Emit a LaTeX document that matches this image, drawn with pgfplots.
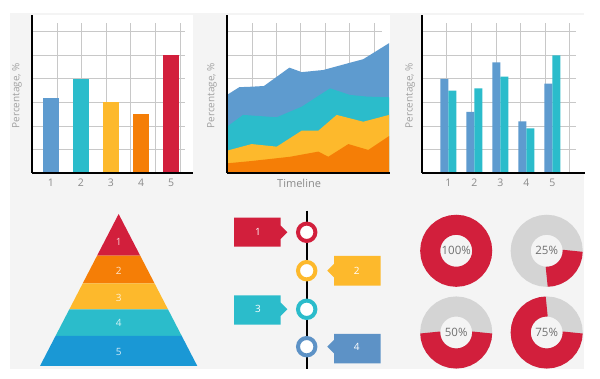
\documentclass[border=0pt]{standalone}
\usepackage{pgfplots}
\pgfplotsset{compat=1.18}
\usepackage{fontspec}
\setmainfont{Open Sans}
\definecolor{panel}{HTML}{F4F4F4}
\definecolor{gridc}{HTML}{C8C8C8}
\definecolor{tickc}{HTML}{8A8A8A}
\definecolor{labc}{HTML}{A0A0A0}
\definecolor{cBlue}{HTML}{5E9BCF}
\definecolor{cTeal}{HTML}{2BBCCB}
\definecolor{cYellow}{HTML}{FDB92C}
\definecolor{cOrange}{HTML}{F57E06}
\definecolor{cRed}{HTML}{D21F3C}
\definecolor{pBlue}{HTML}{1A98D5}
\definecolor{tBlue}{HTML}{5D92C6}
\definecolor{dGray}{HTML}{D4D4D4}
\definecolor{dText}{HTML}{707070}
\begin{document}
\begin{tikzpicture}[x=1pt,y=1pt]
\fill[white] (0pt,0pt) rectangle (600pt,379pt);
\fill[panel] (10pt,10pt) rectangle (584pt,366pt);
\pgfplotsset{
  topchart/.style={
    scale only axis, height=158pt, anchor=south west,
    axis x line*=bottom, axis y line*=left,
    axis line style={black, line width=2.2pt, -},
    axis on top, clip=false,
    ymin=0, ymax=67.2, ytick=\empty,
    major tick length=0pt,
    axis background/.style={fill=white},
    /pgf/number format/assume math mode=true,
    xticklabel style={font=\fontsize{10.5}{12}\selectfont, text=tickc, anchor=center, yshift=-10pt},
    ylabel={Percentage, \%},
  },
  ylab/.style={every axis y label/.style={at={(axis description cs:#1,0.49)}, rotate=90, anchor=center, font=\fontsize{10}{12}\selectfont, text=labc}},
}
% ---------- Chart 1: single bars ----------
\begin{axis}[topchart, ylab=-0.093, at={(32pt,206pt)}, width=161pt,
  xmin=0.367, xmax=5.733, xtick={1,2,3,4,5}, xticklabels={1,2,3,4,5}]
\pgfplotsinvokeforeach{1.2,2.0,2.833,3.633,4.467,5.3}{\draw[gridc, line width=0.9pt] (axis cs:#1,0) -- (axis cs:#1,63.8);}
\pgfplotsinvokeforeach{10,20,30,40,50,60}{\draw[gridc, line width=0.9pt] (axis cs:0.367,#1) -- (axis cs:5.467,#1);}
\addplot[ybar, bar width=16pt, bar shift=0pt, fill=cBlue, draw=none] coordinates {(1,32)};
\addplot[ybar, bar width=16pt, bar shift=0pt, fill=cTeal, draw=none] coordinates {(2,40)};
\addplot[ybar, bar width=16pt, bar shift=0pt, fill=cYellow, draw=none] coordinates {(3,30)};
\addplot[ybar, bar width=16pt, bar shift=0pt, fill=cOrange, draw=none] coordinates {(4,25)};
\addplot[ybar, bar width=16pt, bar shift=0pt, fill=cRed, draw=none] coordinates {(5,50)};
\end{axis}
% ---------- Chart 2: stacked areas ----------
\begin{axis}[topchart, ylab=-0.092, at={(227pt,206pt)}, width=163pt,
  xmin=0, xmax=10.06, xtick=\empty]
\pgfplotsinvokeforeach{1.543,3.025,4.506,6.049,7.531,9.074}{\draw[gridc, line width=0.9pt] (axis cs:#1,0) -- (axis cs:#1,63.8);}
\pgfplotsinvokeforeach{10,20,30,40,50,60}{\draw[gridc, line width=0.9pt] (axis cs:0,#1) -- (axis cs:9.568,#1);}
\addplot[fill=cBlue, draw=none] coordinates {(0,33.2) (0.76,36.5) (1.52,36.7) (2.28,37.0) (3.85,44.8) (4.61,42.9) (5.94,43.8) (7.49,46.7) (8.41,48.4) (10,55.2)} \closedcycle;
\addplot[fill=cTeal, draw=none] coordinates {(0,19.7) (0.99,24.7) (3.07,23.7) (4.61,28.2) (6.36,36.0) (7.59,33.2) (8.62,32.5) (10,32.2)} \closedcycle;
\addplot[fill=cYellow, draw=none] coordinates {(0,9.5) (1.52,12.3) (3.07,11.2) (4.61,18.0) (5.64,18.0) (6.77,24.7) (8.41,21.8) (10,24.7)} \closedcycle;
\addplot[fill=cOrange, draw=none] coordinates {(0,4.1) (1.52,5.1) (3.89,6.9) (5.64,9.1) (6.25,6.9) (7.49,12.3) (8.72,9.8) (10,15.7)} \closedcycle;
\node[text=tickc, font=\fontsize{11}{13}\selectfont, anchor=center] at (axis cs:4.45,-4.3) {Timeline};
\end{axis}
% ---------- Chart 3: grouped bars ----------
\begin{axis}[topchart, ylab=-0.074, at={(422.3pt,206pt)}, width=162.7pt,
  xmin=0, xmax=6.26, xtick={1,2,3,4,5}, xticklabels={1,2,3,4,5}]
\pgfplotsinvokeforeach{0.938,1.873,2.835,3.758,4.719,5.654}{\draw[gridc, line width=0.9pt] (axis cs:#1,0) -- (axis cs:#1,63.8);}
\pgfplotsinvokeforeach{10,20,30,40,50,60}{\draw[gridc, line width=0.9pt] (axis cs:0,#1) -- (axis cs:5.912,#1);}
\addplot[ybar, bar width=8pt, bar shift=-4pt, fill=cBlue, draw=none] coordinates {(1,40) (2,26) (3,47) (4,22) (5,38)};
\addplot[ybar, bar width=8pt, bar shift=4pt, fill=cTeal, draw=none] coordinates {(1,35) (2,36) (3,41) (4,19) (5,50)};
\end{axis}
% ---------- Bottom row ----------
\begin{axis}[at={(0pt,0pt)}, anchor=south west, scale only axis, width=600pt, height=379pt,
  xmin=0, xmax=600, ymin=0, ymax=379, hide axis, clip=false]
% pyramid
\addplot[fill=cRed, draw=none] coordinates {(118.65,165) (97.07,123.3) (140.23,123.3)} -- cycle;
\addplot[fill=cOrange, draw=none] coordinates {(97.07,123.3) (82.79,95.7) (154.51,95.7) (140.23,123.3)} -- cycle;
\addplot[fill=cYellow, draw=none] coordinates {(82.79,95.7) (69.34,69.7) (167.96,69.7) (154.51,95.7)} -- cycle;
\addplot[fill=cTeal, draw=none] coordinates {(69.34,69.7) (55.52,43) (181.78,43) (167.96,69.7)} -- cycle;
\addplot[fill=pBlue, draw=none] coordinates {(55.52,43) (40,13) (197.3,13) (181.78,43)} -- cycle;
\node[text=white, text opacity=0.8, font=\fontsize{10}{12}\selectfont] at (axis cs:118.65,137.3) {1};
\node[text=white, text opacity=0.8, font=\fontsize{10}{12}\selectfont] at (axis cs:118.65,108) {2};
\node[text=white, text opacity=0.8, font=\fontsize{10}{12}\selectfont] at (axis cs:118.65,81.3) {3};
\node[text=white, text opacity=0.8, font=\fontsize{10}{12}\selectfont] at (axis cs:118.65,56.3) {4};
\node[text=white, text opacity=0.8, font=\fontsize{10}{12}\selectfont] at (axis cs:118.65,26.7) {5};
% timeline
\addplot[black, line width=2pt] coordinates {(306.7,168.3) (306.7,9.5)};
\addplot[fill=cRed, draw=none] coordinates {(234,161.3) (280.7,161.3) (280.7,153.3) (287.3,146.7) (280.7,140) (280.7,132.3) (234,132.3)} -- cycle;
\addplot[fill=cYellow, draw=none] coordinates {(380.7,123) (334,123) (334,115) (327.3,108.3) (334,101.7) (334,93.3) (380.7,93.3)} -- cycle;
\addplot[fill=cTeal, draw=none] coordinates {(234,83.7) (280.7,83.7) (280.7,76.3) (287.3,69.7) (280.7,63) (280.7,54.3) (234,54.3)} -- cycle;
\addplot[fill=tBlue, draw=none] coordinates {(380.7,45) (334,45) (334,39) (327.3,32.3) (334,25.7) (334,15.7) (380.7,15.7)} -- cycle;
\addplot[only marks, mark=*, mark size=8.7pt, mark options={draw=cRed, fill=white, line width=4pt}] coordinates {(306.7,146.7)};
\addplot[only marks, mark=*, mark size=8.7pt, mark options={draw=cYellow, fill=white, line width=4pt}] coordinates {(306.7,108.3)};
\addplot[only marks, mark=*, mark size=8.7pt, mark options={draw=cTeal, fill=white, line width=4pt}] coordinates {(306.7,69.7)};
\addplot[only marks, mark=*, mark size=8.7pt, mark options={draw=tBlue, fill=white, line width=4pt}] coordinates {(306.7,32.3)};
\node[text=white, font=\fontsize{10}{12}\selectfont] at (axis cs:258,146.7) {1};
\node[text=white, font=\fontsize{10}{12}\selectfont] at (axis cs:356.7,108.3) {2};
\node[text=white, font=\fontsize{10}{12}\selectfont] at (axis cs:258,69.7) {3};
\node[text=white, font=\fontsize{10}{12}\selectfont] at (axis cs:356.7,32.3) {4};
% donuts
\draw[cRed, line width=20pt] (axis cs:456.2,128.2) circle[radius=26pt];
\draw[dGray, line width=20pt] (axis cs:546.7,128.2) circle[radius=26pt];
\draw[cRed, line width=20pt] (axis cs:546.7,128.2) ++(0:26pt) arc[start angle=0, end angle=-90, radius=26pt];
\draw[dGray, line width=20pt] (axis cs:456.2,46.5) circle[radius=26pt];
\draw[cRed, line width=20pt] (axis cs:456.2,46.5) ++(0:26pt) arc[start angle=0, end angle=-180, radius=26pt];
\draw[dGray, line width=20pt] (axis cs:546.7,46.5) circle[radius=26pt];
\draw[cRed, line width=20pt] (axis cs:546.7,46.5) ++(0:26pt) arc[start angle=0, end angle=-270, radius=26pt];
\node[text=dText, font=\fontsize{11.5}{13}\selectfont] at (axis cs:456.2,128.2) {100\%};
\node[text=dText, font=\fontsize{11.5}{13}\selectfont] at (axis cs:546.7,128.2) {25\%};
\node[text=dText, font=\fontsize{11.5}{13}\selectfont] at (axis cs:456.2,46.5) {50\%};
\node[text=dText, font=\fontsize{11.5}{13}\selectfont] at (axis cs:546.7,46.5) {75\%};
\end{axis}
\pgfresetboundingbox
\useasboundingbox (0pt,0pt) rectangle (600pt,379pt);
\end{tikzpicture}
\end{document}
